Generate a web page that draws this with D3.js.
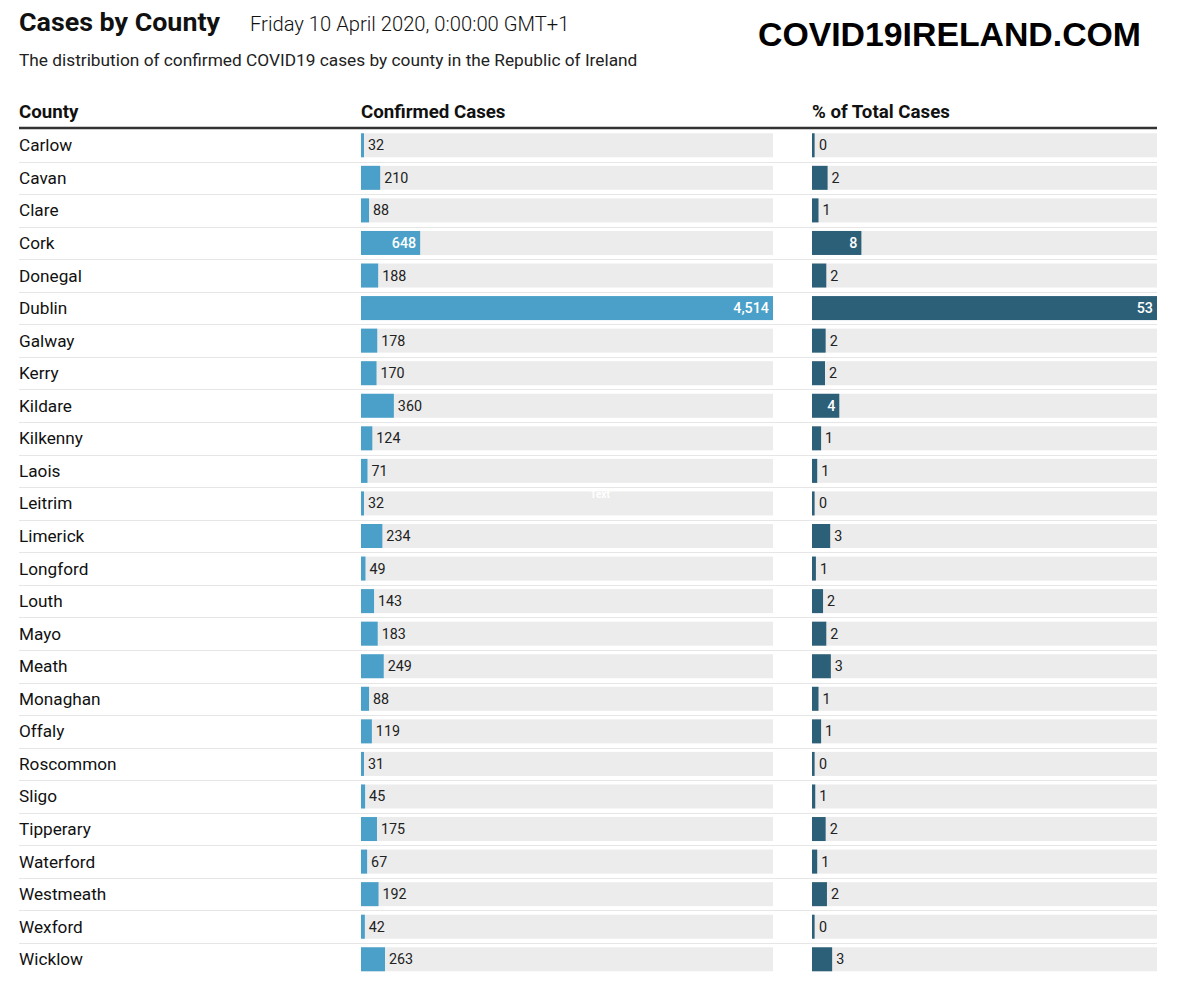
<!DOCTYPE html>
<html>
<head>
<meta charset="utf-8">
<script src="https://cdn.jsdelivr.net/npm/d3@7"></script>
<style>
  html, body { margin: 0; padding: 0; background: #fff; }
  svg { display: block; font-family: Roboto, "Noto Sans", sans-serif; }
</style>
</head>
<body>
<svg id="chart" width="1200" height="992"></svg>
<script>
const counties = ["Carlow","Cavan","Clare","Cork","Donegal","Dublin","Galway","Kerry","Kildare","Kilkenny","Laois","Leitrim","Limerick","Longford","Louth","Mayo","Meath","Monaghan","Offaly","Roscommon","Sligo","Tipperary","Waterford","Westmeath","Wexford","Wicklow"];
const cases = [32,210,88,648,188,4514,178,170,360,124,71,32,234,49,143,183,249,88,119,31,45,175,67,192,42,263];
const pctShare = [0.4,2.4,1.0,7.6,2.2,53.1,2.1,2.0,4.2,1.4,0.8,0.4,2.8,0.6,1.7,2.2,2.9,1.0,1.4,0.4,0.5,2.1,0.8,2.3,0.4,3.1];
const columnHeaders = ["County","Confirmed Cases","% of Total Cases"];

const svg = d3.select("#chart");
const rows = counties.map((c,i)=>({county:c, cases:cases[i], pct:pctShare[i]}));

const y = d3.scaleBand().domain(counties).range([129, 129 + 26*32.56]);
const barH = 24;
const xCases = d3.scaleLinear().domain([0, d3.max(cases)]).range([361, 773]);
const xPct = d3.scaleLinear().domain([0, d3.max(pctShare)]).range([812, 1157]);

// Titles
svg.append("text").attr("x",19).attr("y",31).attr("font-size",26.5).attr("font-weight",700)
  .attr("fill","#111").attr("textLength",201).attr("lengthAdjust","spacingAndGlyphs").text("Cases by County");
svg.append("text").attr("x",250).attr("y",31).attr("font-size",20.2).attr("font-weight",300)
  .attr("fill","#111").text("Friday 10 April 2020, 0:00:00 GMT+1");
svg.append("text").attr("x",19).attr("y",66).attr("font-size",17.3).attr("fill","#222")
  .text("The distribution of confirmed COVID19 cases by county in the Republic of Ireland");
svg.append("text").attr("x",758).attr("y",46).attr("font-size",33).attr("font-weight",700)
  .attr("font-family","'Liberation Sans', Arial, sans-serif").attr("fill","#000")
  .attr("textLength",383).attr("lengthAdjust","spacingAndGlyphs").text("COVID19IRELAND.COM");

// Column headers
const hx = [19, 361, 812];
svg.selectAll("text.hdr").data(columnHeaders).join("text").attr("class","hdr")
  .attr("x",(d,i)=>hx[i]).attr("y",118).attr("font-size",18.7).attr("font-weight",700)
  .attr("fill","#111").text(d=>d);
svg.append("line").attr("x1",19).attr("x2",1157).attr("y1",128).attr("y2",128)
  .attr("stroke","#333").attr("stroke-width",2.5);

// Separators
svg.selectAll("line.sep").data(counties.slice(0,-1)).join("line").attr("class","sep")
  .attr("x1",19).attr("x2",1157)
  .attr("y1",d=>Math.round(y(d)+y.bandwidth())+0.5).attr("y2",d=>Math.round(y(d)+y.bandwidth())+0.5)
  .attr("stroke","#e6e6e6").attr("stroke-width",1);

const g = svg.selectAll("g.row").data(rows).join("g").attr("class","row")
  .attr("transform",d=>`translate(0,${y(d.county)})`);
const off = (y.bandwidth()-barH)/2;

g.append("text").attr("x",19).attr("y",y.bandwidth()/2+6).attr("font-size",17.2)
  .attr("fill","#111").text(d=>d.county);

// tracks
g.append("rect").attr("x",xCases(0)).attr("y",off).attr("width",xCases.range()[1]-xCases(0))
  .attr("height",barH).attr("fill","#ececec");
g.append("rect").attr("x",xPct(0)).attr("y",off).attr("width",xPct.range()[1]-xPct(0))
  .attr("height",barH).attr("fill","#ececec");

// bars
g.append("rect").attr("x",xCases(0)).attr("y",off).attr("width",d=>Math.max(3,xCases(d.cases)-xCases(0)))
  .attr("height",barH).attr("fill","#4aa0c9");
g.append("rect").attr("x",xPct(0)).attr("y",off).attr("width",d=>Math.max(2.5,xPct(d.pct)-xPct(0)))
  .attr("height",barH).attr("fill","#2c5f78");

const fmt = d3.format(",");
function label(sel, xs, acc, f) {
  sel.append("text")
    .attr("y", y.bandwidth()/2+5)
    .attr("font-size",14.3)
    .each(function(d){
      const w = xs(acc(d)) - xs(0);
      const t = d3.select(this);
      t.text(f(acc(d)));
      const tw = this.getComputedTextLength();
      if (w > tw + 16) {
        t.attr("x", xs(acc(d))-4).attr("text-anchor","end").attr("fill","#fff").attr("font-weight",500);
      } else {
        t.attr("x", xs(0)+Math.max(3,w)+4).attr("fill","#222");
      }
    });
}
label(g, xCases, d=>d.cases, fmt);
label(g, xPct, d=>d.pct, v=>d3.format(".0f")(v));

// stray placeholder label seen in the reference
svg.append("text").attr("x",600).attr("y",498).attr("text-anchor","middle")
  .attr("font-size",10).attr("font-weight",700).attr("fill","#fff").text("Text");
</script>
</body>
</html>
